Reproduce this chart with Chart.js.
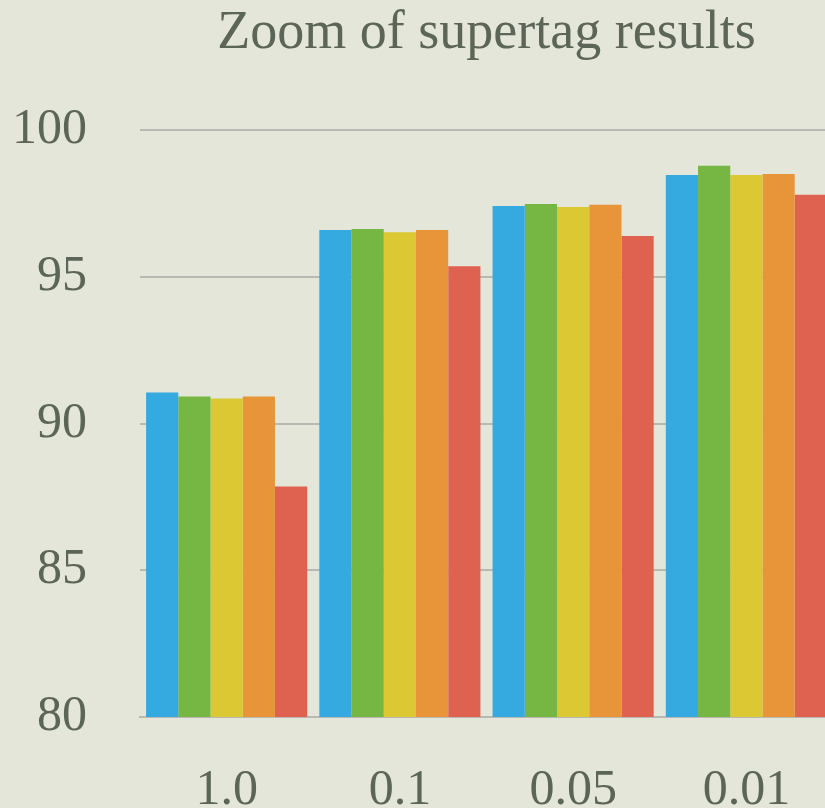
<!DOCTYPE html>
<html>
<head>
<meta charset="utf-8">
<script src="https://cdn.jsdelivr.net/npm/chart.js@4/dist/chart.umd.min.js"></script>
<style>
  html, body { margin: 0; padding: 0; overflow: hidden; background: #e4e6da; }
  #wrap { width: 845px; height: 808px; }
</style>
</head>
<body>
<div id="wrap"><canvas id="c" width="845" height="808"></canvas></div>
<script>
// Sampling rates on the x axis
const categories = ['1.0', '0.1', '0.05', '0.01'];

// Supertag accuracy per run (five runs per sampling rate)
const seriesBlue   = [91.06, 96.59, 97.41, 98.47];
const seriesGreen  = [90.92, 96.63, 97.48, 98.78];
const seriesYellow = [90.85, 96.52, 97.38, 98.47];
const seriesOrange = [90.92, 96.59, 97.45, 98.50];
const seriesRed    = [87.85, 95.36, 96.39, 97.79];

const yTicks = [80, 85, 90, 95, 100];

const ink = '#5c6658';
const rule = '#b8b9b3';
const serif = "'Liberation Serif', 'DejaVu Serif', serif";

const mk = (data, color) => ({
  data,
  backgroundColor: color,
  borderWidth: 0,
  categoryPercentage: 0.93,
  barPercentage: 1.0
});

new Chart(document.getElementById('c'), {
  type: 'bar',
  data: {
    labels: categories,
    datasets: [
      mk(seriesBlue,   '#35aae0'),
      mk(seriesGreen,  '#76b743'),
      mk(seriesYellow, '#dcc832'),
      mk(seriesOrange, '#e8953a'),
      mk(seriesRed,    '#df6150')
    ]
  },
  options: {
    responsive: false,
    devicePixelRatio: 1,
    animation: false,
    layout: { padding: { left: 0, right: 12, top: 0, bottom: 0 } },
    plugins: {
      legend: { display: false },
      tooltip: { enabled: false },
      title: {
        display: true,
        text: 'Zoom of supertag results',
        fullSize: false,
        color: ink,
        font: { family: serif, size: 54, weight: 'normal', lineHeight: 1.1 },
        padding: { top: 4, bottom: 66.6 }
      }
    },
    scales: {
      x: {
        grid: { display: false, drawTicks: false },
        border: { display: true, color: rule, width: 2 },
        ticks: {
          color: ink,
          padding: 49,
          font: { family: serif, size: 50, lineHeight: 1.0 }
        },
        afterFit: (s) => { s.height = 91; }
      },
      y: {
        min: 80,
        max: 100,
        afterBuildTicks: (s) => { s.ticks = yTicks.map(v => ({ value: v })); },
        grid: { color: rule, lineWidth: 2, drawTicks: false },
        border: { display: false },
        ticks: {
          color: ink,
          padding: 53,
          font: { family: serif, size: 50, lineHeight: 1.0 }
        },
        afterFit: (s) => { s.width = 140; }
      }
    }
  }
});
</script>
</body>
</html>
